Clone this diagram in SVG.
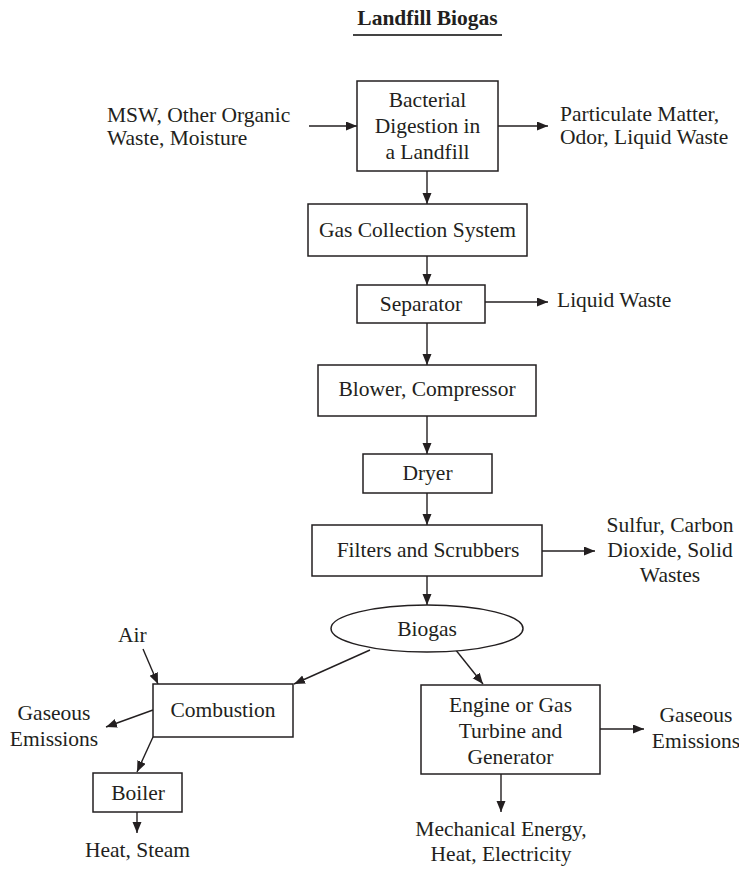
<svg xmlns="http://www.w3.org/2000/svg" width="739" height="869" viewBox="0 0 739 869">
<style>
text{font-family:"Liberation Serif","Times New Roman",serif;font-size:21.5px;fill:#231f20}
.c{text-anchor:middle}
.box{fill:#fff;stroke:#231f20;stroke-width:1.5}
.ln{fill:none;stroke:#231f20;stroke-width:1.4;marker-end:url(#ah)}
</style>
<defs>
<marker id="ah" markerUnits="userSpaceOnUse" markerWidth="12" markerHeight="10" refX="11" refY="4.5" orient="auto">
<path d="M0,0 L11,4.5 L0,9 z" fill="#231f20"/>
</marker>
</defs>
<rect width="739" height="869" fill="#fff"/>
<g id="title">
<text class="c" x="427.5" y="25" font-weight="bold">Landfill Biogas</text>
<line x1="353" y1="35" x2="502" y2="35" stroke="#444" stroke-width="2"/>
</g>
<g id="connectors">
<path class="ln" d="M309,126 H357"/>
<path class="ln" d="M498,126 H548"/>
<path class="ln" d="M427,171 V204"/>
<path class="ln" d="M427,256 V285"/>
<path class="ln" d="M485,302 H548"/>
<path class="ln" d="M427,323 V365"/>
<path class="ln" d="M427,416 V454"/>
<path class="ln" d="M427,493 V525"/>
<path class="ln" d="M542,551 H595"/>
<path class="ln" d="M427,576 V605"/>
<path class="ln" d="M370,650 L294,684"/>
<path class="ln" d="M455,649 L483,684"/>
<path class="ln" d="M143,649 L158,684"/>
<path class="ln" d="M153,710 L106,727"/>
<path class="ln" d="M153,737 L137,772"/>
<path class="ln" d="M137,812 V833"/>
<path class="ln" d="M600,729 H644"/>
<path class="ln" d="M501,774 V812"/>
</g>
<g id="input">
<text x="107" y="122">MSW, Other Organic</text>
<text x="107" y="145">Waste, Moisture</text>
</g>
<g id="bacterial">
<rect class="box" x="357" y="81" width="141" height="90"/>
<text class="c" x="427.5" y="107">Bacterial</text>
<text class="c" x="427.5" y="133">Digestion in</text>
<text class="c" x="427.5" y="159">a Landfill</text>
</g>
<g id="particulate">
<text x="560" y="121">Particulate Matter,</text>
<text x="560" y="144">Odor, Liquid Waste</text>
</g>
<g id="gascollection">
<rect class="box" x="308" y="204" width="219" height="52"/>
<text class="c" x="417.5" y="237">Gas Collection System</text>
</g>
<g id="separator">
<rect class="box" x="357" y="285" width="128" height="38"/>
<text class="c" x="421" y="311">Separator</text>
</g>
<g id="liquidwaste">
<text x="557" y="307">Liquid Waste</text>
</g>
<g id="blower">
<rect class="box" x="318" y="365" width="218" height="51"/>
<text class="c" x="427" y="396">Blower, Compressor</text>
</g>
<g id="dryer">
<rect class="box" x="363" y="454" width="129" height="39"/>
<text class="c" x="427.5" y="480">Dryer</text>
</g>
<g id="filters">
<rect class="box" x="312" y="525" width="230" height="51"/>
<text class="c" x="428" y="557">Filters and Scrubbers</text>
</g>
<g id="sulfur">
<text class="c" x="670" y="532">Sulfur, Carbon</text>
<text class="c" x="670" y="557">Dioxide, Solid</text>
<text class="c" x="670" y="582">Wastes</text>
</g>
<g id="biogas">
<ellipse cx="427" cy="628.5" rx="96" ry="23.5" fill="#fff" stroke="#231f20" stroke-width="1.5"/>
<text class="c" x="427" y="636">Biogas</text>
</g>
<g id="air">
<text x="118" y="642">Air</text>
</g>
<g id="combustion">
<rect class="box" x="153" y="684" width="140" height="53"/>
<text class="c" x="223" y="717">Combustion</text>
</g>
<g id="gaseous-left">
<text class="c" x="54" y="720">Gaseous</text>
<text class="c" x="54" y="746">Emissions</text>
</g>
<g id="boiler">
<rect class="box" x="93" y="773" width="89" height="39"/>
<text class="c" x="138" y="800">Boiler</text>
</g>
<g id="heatsteam">
<text class="c" x="137.5" y="857">Heat, Steam</text>
</g>
<g id="engine">
<rect class="box" x="421" y="685" width="179" height="89"/>
<text class="c" x="510.5" y="712">Engine or Gas</text>
<text class="c" x="510.5" y="738">Turbine and</text>
<text class="c" x="510.5" y="764">Generator</text>
</g>
<g id="gaseous-right">
<text class="c" x="696" y="722">Gaseous</text>
<text class="c" x="696" y="748">Emissions</text>
</g>
<g id="mechanical">
<text class="c" x="501" y="836">Mechanical Energy,</text>
<text class="c" x="501" y="861">Heat, Electricity</text>
</g>
</svg>
